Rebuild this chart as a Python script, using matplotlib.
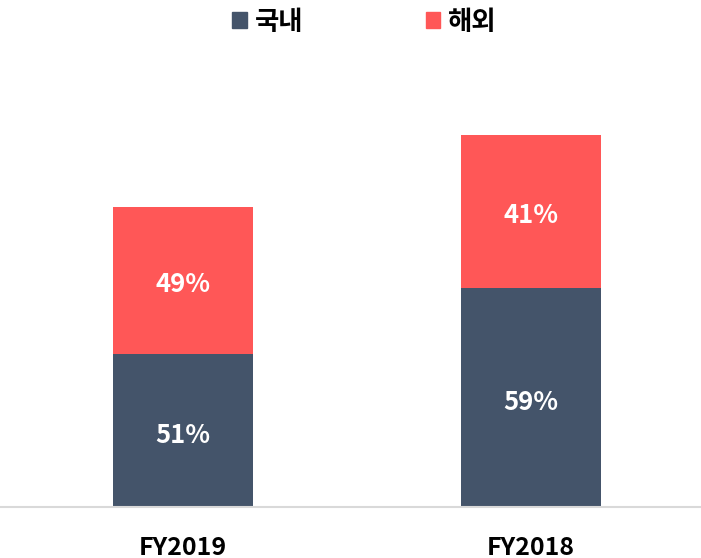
import matplotlib.pyplot as plt
from matplotlib.patches import Patch

plt.rcParams['font.family'] = ['Noto Sans CJK KR', 'DejaVu Sans']

years = ["FY2019", "FY2018"]
totals = [100, 124]
domestic_pct = [51, 59]
overseas_pct = [49, 41]
series_names = ["국내", "해외"]

DARK = "#44546A"
RED = "#FF5757"


def main():
    fig = plt.figure(figsize=(7.01, 5.58), dpi=100)
    ax = fig.add_axes([0, 51 / 558, 1, 1 - 51 / 558 - 60 / 558])

    x = list(range(len(years)))
    domestic = [t * p / 100 for t, p in zip(totals, domestic_pct)]
    overseas = [t * p / 100 for t, p in zip(totals, overseas_pct)]

    width = 0.402
    ax.bar(x, domestic, width, color=DARK, label=series_names[0])
    ax.bar(x, overseas, width, bottom=domestic, color=RED, label=series_names[1])

    # labels sit a few px lower than the true centre in the original
    for i in x:
        ax.annotate(f"{domestic_pct[i]}%", (i, domestic[i] / 2), xytext=(0, -3.5),
                    textcoords="offset points", ha="center", va="center",
                    color="white", fontsize=18.5, fontweight="bold")
        ax.annotate(f"{overseas_pct[i]}%", (i, domestic[i] + overseas[i] / 2),
                    xytext=(0, -3), textcoords="offset points", ha="center",
                    va="center", color="white", fontsize=18.5, fontweight="bold")

    ax.set_xlim(-0.526, 1.489)
    ax.set_ylim(0, 149)
    for s in ["top", "right", "left"]:
        ax.spines[s].set_visible(False)
    ax.spines["bottom"].set_color("#D9D9D9")
    ax.spines["bottom"].set_linewidth(1.5)
    ax.set_yticks([])
    ax.set_xticks(x)
    ax.set_xticklabels(years, fontsize=18, fontweight="bold")
    ax.tick_params(axis="x", length=0, pad=21)

    handles = [Patch(color=DARK), Patch(color=RED)]
    fig.legend(handles, series_names, loc="upper center", bbox_to_anchor=(0.52, 1.027),
               ncol=2, frameon=False,
               prop={"size": 19, "weight": "bold"},
               handlelength=0.55, handleheight=0.55, handletextpad=0.3, columnspacing=4.65)

    fig.savefig("out.png", dpi=100)


if __name__ == "__main__":
    main()
